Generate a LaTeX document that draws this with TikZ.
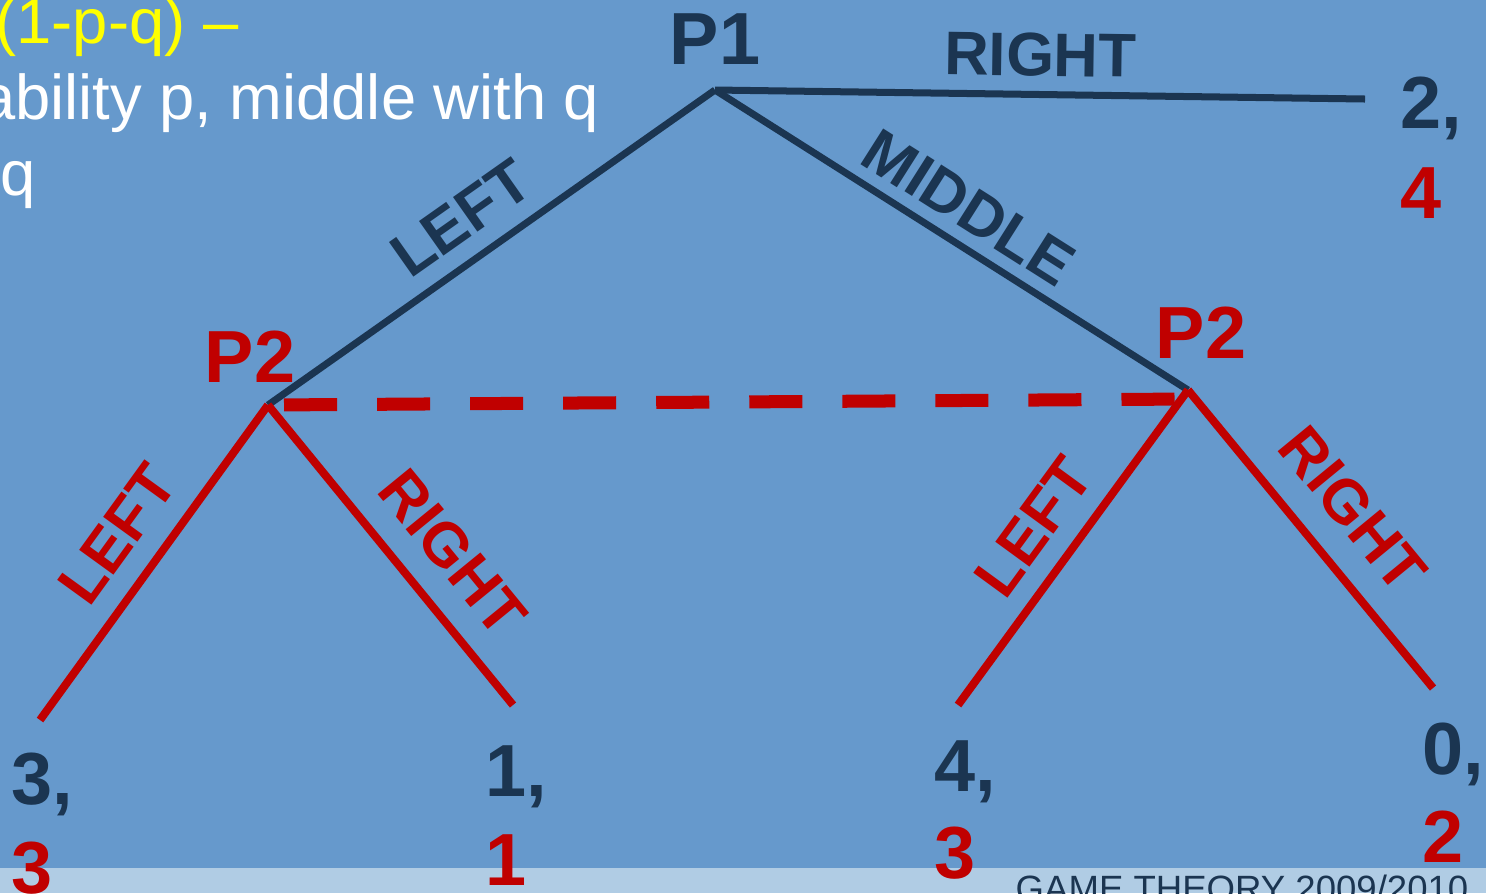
\documentclass[tikz,border=0pt]{standalone}
\usepackage{fontspec}
\setmainfont{Liberation Sans}
\usepackage{xcolor}
\usetikzlibrary{positioning}
\definecolor{slidebg}{HTML}{6699CC}
\definecolor{footbg}{HTML}{B0CCE4}
\definecolor{gtnavy}{HTML}{1B3551}
\definecolor{gtred}{HTML}{C00000}
\definecolor{gtyellow}{HTML}{FFFF00}

\begin{document}
\begin{tikzpicture}[
      x=0.01cm, y=-0.01cm,
      txt/.style={inner sep=0pt, anchor=base west, font=\fontsize{18}{22}\selectfont},
      player/.style={inner sep=0pt, font=\fontsize{21}{25}\selectfont\bfseries},
      pay/.style={inner sep=0pt, anchor=base west, font=\fontsize{21}{25}\selectfont\bfseries},
      lbl/.style={inner sep=0pt, sloped, font=\fontsize{17.5}{21}\selectfont\bfseries},
      moveone/.style={draw=gtnavy, line width=0.07cm},
      movetwo/.style={draw=gtred, line width=0.08cm},
      infoset/.style={draw=gtred, line width=0.13cm,
                      dash pattern=on 0.53cm off 0.40cm, dash phase=0.77cm}]
    \useasboundingbox (0,0) rectangle (1486,893);
    \clip (0,0) rectangle (1486,893);
    \fill[slidebg] (0,0) rectangle (1486,893);
    \fill[footbg] (0,868) rectangle (1486,893);

    % decision points and leaves
    \coordinate (p1) at (715,90);
    \coordinate (p2l) at (268,405);
    \coordinate (p2r) at (1188,390);
    \coordinate (endT) at (1365,99);
    \coordinate (endLL) at (40,720);
    \coordinate (endLR) at (513,705);
    \coordinate (endRL) at (958,705);
    \coordinate (endRR) at (1433,688);

    \draw[moveone] (p1) -- node[lbl, gtnavy, above=0.145cm, pos=.5] {RIGHT} (endT);
    \draw[moveone] (p1) -- node[lbl, gtnavy, above=0.12cm, pos=.495] {MIDDLE} (p2r);
    \draw[moveone] (p1) -- node[lbl, gtnavy, above=0.17cm, pos=.515] {LEFT} (p2l);
    \draw[movetwo] (p2l) -- node[lbl, gtred, above=0.21cm, pos=.496] {LEFT} (endLL);
    \draw[movetwo] (p2l) -- node[lbl, gtred, above=0.24cm, pos=.597] {RIGHT} (endLR);
    \draw[movetwo] (p2r) -- node[lbl, gtred, above=0.19cm, pos=.516] {LEFT} (endRL);
    \draw[movetwo] (p2r) -- node[lbl, gtred, above=0.26cm, pos=.51] {RIGHT} (endRR);
    \draw[infoset] (p2l) -- ([yshift=-0.09cm]p2r);

    \node[player, gtnavy, above=0.25cm of p1] (nameP1) {P1};
    \node[player, gtred, anchor=base] (nameP2l) at (250,382) {P2};
    \node[player, gtred, anchor=base] (nameP2r) at (1201,358) {P2};

    % payoffs
    \node[pay, gtnavy] (uT) at (1400,128) {2,};
    \node[pay, gtred] (vT) at (1400,218) {4};
    \node[pay, gtnavy] (uLL) at (11,804) {3,};
    \node[pay, gtred] (vLL) at (11,893) {3};
    \node[pay, gtnavy] (uLR) at (485,796) {1,};
    \node[pay, gtred] (vLR) at (485,885) {1};
    \node[pay, gtnavy] (uRL) at (934,791) {4,};
    \node[pay, gtred] (vRL) at (934,878) {3};
    \node[pay, gtnavy] (uRR) at (1422,774) {0,};
    \node[pay, gtred] (vRR) at (1422,862) {2};

    % slide text
    \node[txt, anchor=base east, gtyellow] (probline) at (239,43) {(1-p-q) –};
    \node[txt, anchor=base east, white] (probtext) at (600,119) {ability p, middle with q};
    \node[txt, white] (probq) at (0,195) {q};
    \node[txt, gtnavy, font=\fontsize{10.4}{12}\selectfont] (footer) at (1015,901) {GAME THEORY 2009/2010};
\end{tikzpicture}
\end{document}
